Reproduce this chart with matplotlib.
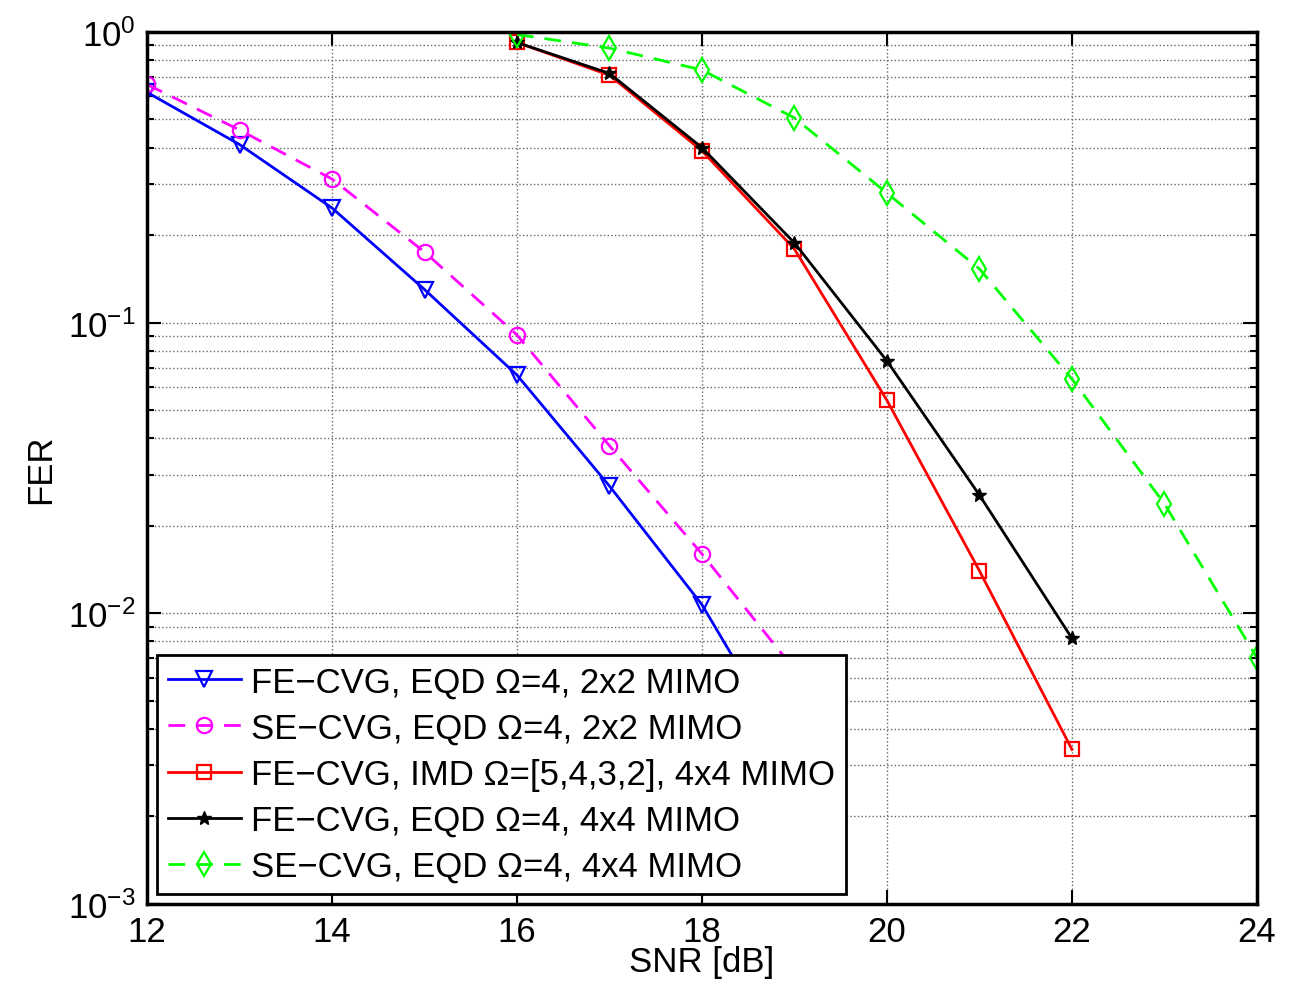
import numpy as np
import matplotlib
matplotlib.use("Agg")
import matplotlib.pyplot as plt

plt.rcParams["font.family"] = ["Liberation Sans", "DejaVu Sans"]
plt.rcParams["mathtext.fontset"] = "custom"
plt.rcParams["mathtext.rm"] = "Liberation Sans"
plt.rcParams["mathtext.it"] = "Liberation Sans:italic"

# SNR points
snr_2x2 = [12, 13, 14, 15, 16, 17, 18, 19]
snr_4x4 = [16, 17, 18, 19, 20, 21, 22]
snr_se4 = [16, 17, 18, 19, 20, 21, 22, 23, 24]

# FER values
fe_eqd_2x2 = [0.62, 0.41, 0.248, 0.13, 0.066, 0.0274, 0.0107, 0.0031]
se_eqd_2x2 = [0.66, 0.46, 0.312, 0.175, 0.0907, 0.0377, 0.016, 0.0064]
fe_imd_4x4 = [0.92, 0.71, 0.39, 0.179, 0.054, 0.014, 0.0034]
fe_eqd_4x4 = [0.92, 0.72, 0.40, 0.188, 0.0738, 0.0255, 0.0082]
se_eqd_4x4 = [0.98, 0.88, 0.74, 0.506, 0.279, 0.153, 0.064, 0.0238, 0.00703]

labels = [
    "FE\u2212CVG, EQD \u03a9=4, 2x2 MIMO",
    "SE\u2212CVG, EQD \u03a9=4, 2x2 MIMO",
    "FE\u2212CVG, IMD \u03a9=[5,4,3,2], 4x4 MIMO",
    "FE\u2212CVG, EQD \u03a9=4, 4x4 MIMO",
    "SE\u2212CVG, EQD \u03a9=4, 4x4 MIMO",
]

fs = 25

fig = plt.figure(figsize=(13.07, 9.87), dpi=100)
ax = fig.add_axes([0.1125, 0.0831, 0.8492, 0.8835])

ax.semilogy(snr_2x2, fe_eqd_2x2, "-v", color="#0000ff", lw=2, ms=11,
            mfc="none", mew=1.6, label=labels[0])
ax.semilogy(snr_2x2, se_eqd_2x2, "--o", color="#ff00ff", lw=2, ms=11,
            mfc="none", mew=1.6, label=labels[1], dashes=(6, 4))
ax.semilogy(snr_4x4, fe_imd_4x4, "-s", color="#ff0000", lw=2, ms=10,
            mfc="none", mew=1.6, label=labels[2])
ax.semilogy(snr_4x4, fe_eqd_4x4, "-*", color="black", lw=2, ms=10,
            label=labels[3])
ax.semilogy(snr_se4, se_eqd_4x4, "--d", color="#00ff00", lw=2, ms=12,
            mfc="none", mew=1.6, label=labels[4], dashes=(6, 4))

ax.set_xlim(12, 24)
ax.set_ylim(1e-3, 1)
ax.set_xticks([12, 14, 16, 18, 20, 22, 24])
ax.set_xlabel("SNR [dB]", fontsize=fs, labelpad=-2)
ax.set_ylabel("FER", fontsize=fs, labelpad=8)

ax.grid(True, which="major", linestyle=":", color="0.4", lw=1)
ax.grid(True, which="minor", axis="y", linestyle=":", color="0.4", lw=1)
ax.tick_params(which="both", direction="in", top=True, right=True,
               labelsize=fs, width=1.5)
ax.tick_params(which="major", length=10, pad=8)
ax.tick_params(which="minor", length=5)
for s in ax.spines.values():
    s.set_linewidth(2.5)

leg = ax.legend(loc="lower left", fontsize=fs, fancybox=False,
                edgecolor="black", framealpha=1, handlelength=2.1,
                borderaxespad=0.3, labelspacing=0.38, handletextpad=0.3,
                borderpad=0.3)
leg.get_frame().set_linewidth(2)

fig.savefig("out.png", dpi=100)
